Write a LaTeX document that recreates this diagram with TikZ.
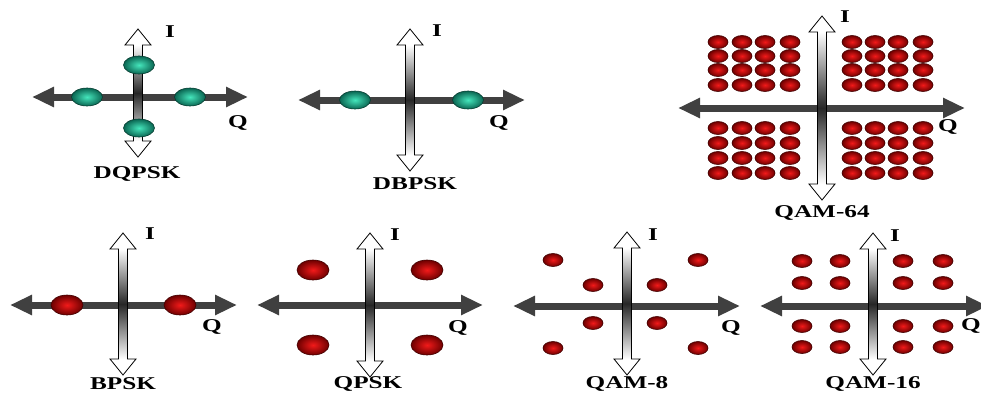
\documentclass[tikz,border=0pt]{standalone}
\usepackage{fontspec}
\setmainfont{Liberation Serif}
\usepackage{graphicx}
\usepackage{tikz}
\usetikzlibrary{arrows.meta,shapes.geometric}

\definecolor{tealin}{HTML}{45E6BC}
\definecolor{tealout}{HTML}{0A6652}
\definecolor{redin}{HTML}{F21A1A}
\definecolor{redout}{HTML}{6E0000}
\definecolor{axisgray}{HTML}{404040}

\newcommand{\wide}[1]{\scalebox{1.4}[1]{#1}}
% cx, cy, left, right, top, bottom
\newcommand{\iqaxes}[6]{%
  \draw[haxis] (#3,#2) -- (#4,#2);
  \fill[white] (#1,#5) -- (#1+13,#5+16) -- (#1+4.5,#5+16) -- (#1+4.5,#6-16)
    -- (#1+13,#6-16) -- (#1,#6) -- (#1-13,#6-16) -- (#1-4.5,#6-16)
    -- (#1-4.5,#5+16) -- (#1-13,#5+16) -- cycle;
  \shade[top color=white, bottom color=white, middle color=black!85]
    (#1-4.5,#5+16) rectangle (#1+4.5,#6-16);
  \draw[vout] (#1,#5) -- (#1+13,#5+16) -- (#1+4.5,#5+16) -- (#1+4.5,#6-16)
    -- (#1+13,#6-16) -- (#1,#6) -- (#1-13,#6-16) -- (#1-4.5,#6-16)
    -- (#1-4.5,#5+16) -- (#1-13,#5+16) -- cycle;
}

\tikzset{
  haxis/.style={draw=axisgray, line width=7pt,
    {Triangle[length=22pt,width=19pt]}-{Triangle[length=22pt,width=19pt]}},
  vout/.style={draw=black, line width=0.8pt, line join=miter},
  tdot/.style={ellipse, minimum width=31pt, minimum height=18pt, inner sep=0pt,
    draw=tealout!60!black, line width=0.6pt, shading=radial, inner color=tealin, outer color=tealout},
  rdot/.style={ellipse, minimum width=32pt, minimum height=20pt, inner sep=0pt,
    draw=redout!60!black, line width=0.6pt, shading=radial, inner color=redin, outer color=redout},
  qdot/.style={rdot, minimum width=20pt, minimum height=13pt},
  lbl/.style={font=\fontsize{18}{18}\selectfont\bfseries, inner sep=0pt}
}

\begin{document}
\begin{tikzpicture}[x=1pt, y=-1pt]
\useasboundingbox (0,0) rectangle (981,392);

% DQPSK
\iqaxes{138}{97}{32}{248}{29}{157}
\node[tdot] (dq-t) at (139,65) {};
\node[tdot] (dq-l) at (87,97) {};
\node[tdot] (dq-r) at (190,97) {};
\node[tdot] (dq-b) at (139,128) {};
\node[lbl] (dq-i) at (170,32) {\wide{I}};
\node[lbl] (dq-q) at (238,123) {\wide{Q}};
\node[lbl] (dq-name) at (137,174) {\wide{DQPSK}};

% DBPSK
\iqaxes{410}{100}{298}{525}{29}{171}
\node[tdot] (db-l) at (355,100) {};
\node[tdot] (db-r) at (468,100) {};
\node[lbl] (db-i) at (437,31) {\wide{I}};
\node[lbl] (db-q) at (499,123) {\wide{Q}};
\node[lbl] (db-name) at (415,184) {\wide{DBPSK}};

% QAM-64
\iqaxes{822}{108}{678}{965}{16}{200}
\foreach \x in {718,742,765,790,852,875,898,923}
  \foreach \y in {42,56,70,85,128,143,158,173}
    \node[qdot] (q64-\x-\y) at (\x,\y) {};
\node[lbl] (q64-i) at (845,17) {\wide{I}};
\node[lbl] (q64-q) at (948,127) {\wide{Q}};
\node[lbl] (q64-name) at (822,213) {\wide{QAM-64}};

% BPSK
\iqaxes{123}{305}{10}{237}{233}{375}
\node[rdot] (bp-l) at (67,305) {};
\node[rdot] (bp-r) at (180,305) {};
\node[lbl] (bp-i) at (150,234) {\wide{I}};
\node[lbl] (bp-q) at (212,327) {\wide{Q}};
\node[lbl] (bp-name) at (123,384) {\wide{BPSK}};

% QPSK
\iqaxes{370}{305}{257}{483}{233}{377}
\foreach \x in {313,427}
  \foreach \y in {270,345}
    \node[rdot] (qp-\x-\y) at (\x,\y) {};
\node[lbl] (qp-i) at (395,235) {\wide{I}};
\node[lbl] (qp-q) at (458,328) {\wide{Q}};
\node[lbl] (qp-name) at (368,384) {\wide{QPSK}};

% QAM-8
\iqaxes{627}{306}{513}{740}{232}{375}
\foreach \x/\y in {553/260,698/260,593/285,657/285,593/323,657/323,553/348,698/348}
  \node[qdot] (q8-\x-\y) at (\x,\y) {};
\node[lbl] (q8-i) at (653,235) {\wide{I}};
\node[lbl] (q8-q) at (731,328) {\wide{Q}};
\node[lbl] (q8-name) at (627,384) {\wide{QAM-8}};

% QAM-16
\iqaxes{873}{306}{760}{988}{233}{375}
\foreach \x in {802,840,903,943}
  \foreach \y in {261,283,326,347}
    \node[qdot] (q16-\x-\y) at (\x,\y) {};
\node[lbl] (q16-i) at (895,236) {\wide{I}};
\node[lbl] (q16-q) at (971,326) {\wide{Q}};
\node[lbl] (q16-name) at (873,384) {\wide{QAM-16}};
\end{tikzpicture}
\end{document}
